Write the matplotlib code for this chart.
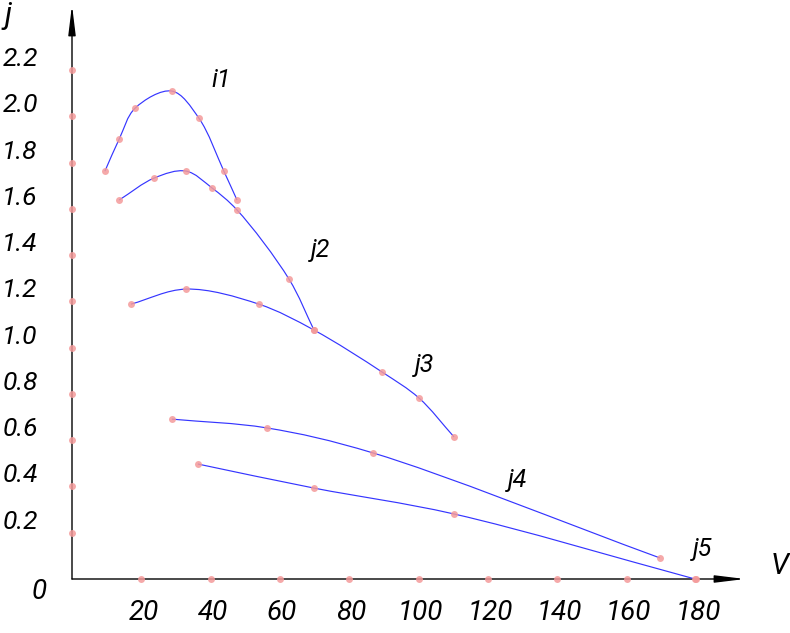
import numpy as np
import matplotlib
matplotlib.use("Agg")
import matplotlib.pyplot as plt
from matplotlib.path import Path
from matplotlib.patches import PathPatch

# ---- data ----
x_ticks = [20, 40, 60, 80, 100, 120, 140, 160, 180]
y_ticks = [0.2, 0.4, 0.6, 0.8, 1.0, 1.2, 1.4, 1.6, 1.8, 2.0, 2.2]
y_tick_labels = ["0.2", "0.4", "0.6", "0.8", "1.0", "1.2", "1.4", "1.6", "1.8", "2.0", "2.2"]
x_tick_labels = ["20", "40", "60", "80", "100", "120", "140", "160", "180"]

i1_x = [9.5, 13.6, 18.2, 28.8, 36.6, 43.8, 47.6]
i1_y = [1.763, 1.901, 2.035, 2.109, 1.992, 1.763, 1.638]

j2_x = [13.6, 23.7, 32.9, 40.4, 47.6, 62.6, 69.8]
j2_y = [1.638, 1.733, 1.763, 1.690, 1.595, 1.296, 1.076]

j3_x = [17.0, 32.9, 53.9, 69.8, 89.4, 100.1, 110.2]
j3_y = [1.188, 1.253, 1.188, 1.076, 0.895, 0.782, 0.614]

j4_x = [28.8, 56.2, 86.8, 169.6]
j4_y = [0.691, 0.653, 0.545, 0.091]

j5_x = [36.3, 69.8, 110.2, 179.7]
j5_y = [0.497, 0.393, 0.281, 0.0]

series = [(i1_x, i1_y), (j2_x, j2_y), (j3_x, j3_y), (j4_x, j4_y), (j5_x, j5_y)]
curve_names = ["i1", "j2", "j3", "j4", "j5"]

# ---- figure ----
W, H = 790, 633
fig = plt.figure(figsize=(W / 100, H / 100), dpi=100)
fig.patch.set_facecolor("white")

x0, y0 = 72, 579          # origin in pixels
xr, yt = 745, 5           # arrow tips in pixels
ax = fig.add_axes([x0 / W, (H - y0) / H, (xr - x0) / W, (y0 - yt) / H])
px_per_x = (696 - 72) / 180.0
px_per_y = (579 - 70) / 2.2
ax.set_xlim(0, (xr - x0) / px_per_x)
ax.set_ylim(0, (y0 - yt) / px_per_y)
ax.axis("off")

FONT = ["Roboto", "DejaVu Sans"]
FW = "normal"
BLUE = "#3535ff"
DOT = "#f49a9a"

# axes with arrows
arrow = dict(arrowstyle="-|>,head_length=1.8,head_width=0.22",
             color="black", lw=1.0, shrinkA=0, shrinkB=0)
ax.annotate("", xy=(1, 0), xycoords="axes fraction", xytext=(0, 0), arrowprops=arrow)
ax.annotate("", xy=(0, 1), xycoords="axes fraction", xytext=(0, 0), arrowprops=arrow)

# tick dots
ax.plot(x_ticks, [0] * len(x_ticks), "o", color=DOT, ms=5, alpha=0.85,
        clip_on=False, zorder=5, mec="none")
ax.plot([0] * len(y_ticks), y_ticks, "o", color=DOT, ms=5, alpha=0.85,
        clip_on=False, zorder=5, mec="none")

# tick labels
for xv, lab in zip(x_ticks, x_tick_labels):
    ax.annotate(lab, xy=(xv, 0), xytext=(2, -34), textcoords="offset pixels",
                ha="center", va="center", fontsize=20, style="italic",
                weight=FW, family=FONT, annotation_clip=False)
for yv, lab in zip(y_ticks, y_tick_labels):
    ax.annotate(lab, xy=(0, yv), xytext=(-52, 11), textcoords="offset pixels",
                ha="center", va="center", fontsize=19, style="italic",
                weight=FW, family=FONT, annotation_clip=False)
ax.annotate("0", xy=(0, 0), xytext=(-33, -13), textcoords="offset pixels",
            ha="center", va="center", fontsize=20, style="italic",
            weight=FW, family=FONT, annotation_clip=False)


def smooth_path(xs, ys, sx, sy, alpha=0.5):
    # centripetal Catmull-Rom through the data points, computed in pixel space
    P = np.column_stack([np.asarray(xs) * sx, np.asarray(ys) * sy]).astype(float)
    n = len(P)
    ext = np.vstack([2 * P[0] - P[1], P, 2 * P[-1] - P[-2]])
    verts = [P[0]]
    codes = [Path.MOVETO]
    for i in range(n - 1):
        p0, p1, p2, p3 = ext[i], ext[i + 1], ext[i + 2], ext[i + 3]
        d1 = np.linalg.norm(p1 - p0) ** alpha
        d2 = np.linalg.norm(p2 - p1) ** alpha
        d3 = np.linalg.norm(p3 - p2) ** alpha
        b1 = (d1 ** 2 * p2 - d2 ** 2 * p0 + (2 * d1 ** 2 + 3 * d1 * d2 + d2 ** 2) * p1) / (3 * d1 * (d1 + d2))
        b2 = (d3 ** 2 * p1 - d2 ** 2 * p3 + (2 * d3 ** 2 + 3 * d3 * d2 + d2 ** 2) * p2) / (3 * d3 * (d3 + d2))
        verts += [b1, b2, p2]
        codes += [Path.CURVE4] * 3
    verts = np.array(verts) / np.array([sx, sy])
    return Path(verts, codes)


for xs, ys in series:
    ax.add_patch(PathPatch(smooth_path(xs, ys, px_per_x, px_per_y), fc="none",
                           ec=BLUE, lw=0.85, zorder=3, clip_on=False))
    ax.plot(xs, ys, "o", color=DOT, ms=5, alpha=0.85, mec="none",
            zorder=4, clip_on=False)

# curve labels (pixel positions)
label_pos = [(221, 80), (321, 250), (425, 365), (518, 480), (703, 549)]
for name, (px, py) in zip(curve_names, label_pos):
    fig.text(px / W, 1 - py / H, name, ha="center", va="center",
             fontsize=18, style="italic", weight=FW, family=FONT)

fig.text(780 / W, 1 - 566 / H, "V", ha="center", va="center",
         fontsize=21, style="italic", weight=FW, family=FONT)
fig.text(8 / W, 1 - 15 / H, "j", ha="center", va="center",
         fontsize=22, style="italic", weight=FW, family=FONT)

fig.savefig("out.png", dpi=100, facecolor="white")
